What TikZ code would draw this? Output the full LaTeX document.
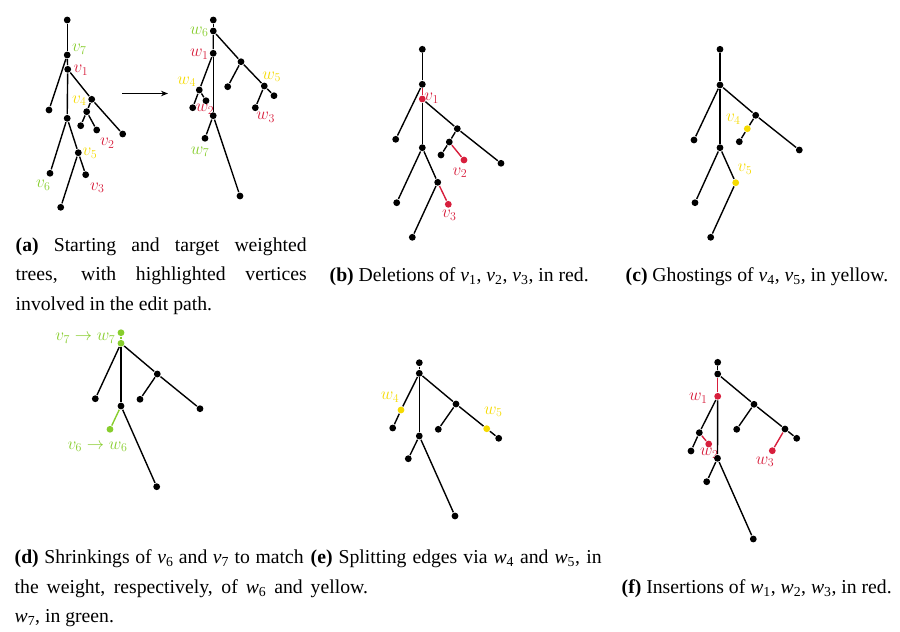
\documentclass[tikz,border=0pt]{standalone}
\usepackage{fontspec}
\newfontfamily\capfont{Liberation Serif}
\usetikzlibrary{arrows.meta}
\definecolor{tgreen}{RGB}{135,205,45}
\definecolor{tred}{RGB}{215,30,60}
\definecolor{tyellow}{RGB}{245,218,0}
\newcommand\capv[1]{\textit{v}\textsubscript{#1}}
\newcommand\capw[1]{\textit{w}\textsubscript{#1}}
\tikzset{
  dot/.style={circle, fill=black, inner sep=0pt, minimum size=6.8pt},
  rdot/.style={dot, fill=tred},
  ydot/.style={dot, fill=tyellow},
  gdot/.style={dot, fill=tgreen},
  lbl/.style={inner sep=0pt, font=\fontsize{16.5}{18}\selectfont},
  captext/.style={anchor=base west, inner sep=0pt, font=\capfont\fontsize{19.7}{29.5}\selectfont},
  link/.style={line width=1.4pt}
}
\begin{document}
\begin{tikzpicture}[x=1pt, y=-1pt, line width=1.4pt]
\useasboundingbox (0,0) rectangle (900,632);

% ---------------- (a) starting tree ----------------
\node[lbl, text=tgreen] (lA7) at (79.3,49.3) {$v_7$};
\node[lbl, text=tred] (lA1) at (81,70) {$v_1$};
\node[lbl, text=tyellow] (lA4) at (79.3,100.7) {$v_4$};
\node[lbl, text=tred] (lA2) at (107.3,143.3) {$v_2$};
\node[lbl, text=tyellow] (lA5) at (90,153.3) {$v_5$};
\node[lbl, text=tgreen] (lA6) at (43.3,185) {$v_6$};
\node[lbl, text=tred] (lA3) at (97.3,187.7) {$v_3$};
\node[dot] (A0) at (67.2,20) {};
\node[dot] (A7) at (67.2,55) {};
\node[dot] (A1) at (67.7,69.3) {};
\node[dot] (Al) at (49,110) {};
\node[dot] (Ar) at (91.7,99.3) {};
\node[dot] (A4) at (86.7,111.7) {};
\node[dot] (A4a) at (80.7,125.7) {};
\node[dot] (A2) at (96.7,130) {};
\node[dot] (Arl) at (122.7,134) {};
\node[dot] (Am) at (67.2,118.3) {};
\node[dot] (A6) at (50,173.3) {};
\node[dot] (A5) at (78.3,152.7) {};
\node[dot] (A3) at (85.7,174.7) {};
\node[dot] (Ab) at (60.7,207.3) {};
\foreach \a/\b in {A0/A7, A7/A1, A7/Al, A1/Am, A1/Ar, Ar/A4, Ar/Arl, A4/A4a, A4/A2, Am/A6, Am/A5, A5/A3, A5/Ab}
  \draw[link] (\a) -- (\b);

% arrow
\coordinate (arrS) at (122,93.5);
\coordinate (arrE) at (168,93.5);
\draw[line width=1.1pt, -{Stealth[length=7pt,width=5.5pt]}] (arrS) -- (arrE);

% ---------------- (a) target tree ----------------
\node[lbl, text=tgreen] (lB6) at (199.3,31.7) {$w_6$};
\node[lbl, text=tred] (lB1) at (199.3,54.3) {$w_1$};
\node[lbl, text=tyellow] (lB4) at (186.7,81.7) {$w_4$};
\node[lbl, text=tyellow] (lB5) at (271.7,76.7) {$w_5$};
\node[lbl, text=tred] (lB3) at (265.7,117.3) {$w_3$};
\node[lbl, text=tred] (lB2) at (205,109) {$w_2$};
\node[lbl, text=tgreen] (lB7) at (200,151.7) {$w_7$};
\node[dot] (B0) at (213.3,20) {};
\node[dot] (B6) at (213.3,31) {};
\node[dot] (B1) at (213.2,53.3) {};
\node[dot] (Br) at (241,61.7) {};
\node[dot] (Brl) at (227.7,86.7) {};
\node[dot] (B5) at (264.3,86) {};
\node[dot] (B5a) at (274,95.7) {};
\node[dot] (B3) at (255.3,107.7) {};
\node[dot] (B4) at (199.3,90) {};
\node[dot] (B4a) at (192.7,107.7) {};
\node[dot] (B2) at (206,100.7) {};
\node[dot] (Bm) at (213.2,115.7) {};
\node[dot] (B7) at (205,138.3) {};
\node[dot] (Bb) at (240,196) {};
\foreach \a/\b in {B0/B6, B6/B1, B1/Bm, B1/B4, B4/B4a, B4/B2, B6/Br, Br/Brl, Br/B5, B5/B5a, B5/B3, Bm/B7, Bm/Bb}
  \draw[link] (\a) -- (\b);

% ---------------- (b) deletions ----------------
\node[lbl, text=tred] (lC1) at (431.7,98.3) {$v_1$};
\node[lbl, text=tred] (lC2) at (460,172.7) {$v_2$};
\node[lbl, text=tred] (lC3) at (449.3,215) {$v_3$};
\node[dot] (C0) at (422.3,49.3) {};
\node[dot] (C7) at (422.3,84.3) {};
\node[rdot] (C1) at (422.3,99) {};
\node[dot] (Cl) at (395.7,139.3) {};
\node[dot] (Cr) at (457.3,128.7) {};
\node[dot] (C4) at (449.3,142) {};
\node[dot] (C4a) at (441,155) {};
\node[rdot] (C2) at (464,160) {};
\node[dot] (Crl) at (501,163.3) {};
\node[dot] (Cm) at (422.3,147.7) {};
\node[dot] (Cml) at (396.7,202.7) {};
\node[dot] (C5) at (437.7,182.3) {};
\node[rdot] (C3) at (448.3,204.3) {};
\node[dot] (Cb) at (412.3,237.3) {};
\foreach \a/\b in {C0/C7, C7/Cl, C1/Cm, C1/Cr, Cr/C4, Cr/Crl, C4/C4a, Cm/Cml, Cm/C5, C5/Cb}
  \draw[link] (\a) -- (\b);
\foreach \a/\b in {C7/C1, C4/C2, C5/C3}
  \draw[link, tred] (\a) -- (\b);

% ---------------- (c) ghostings ----------------
\node[lbl, text=tyellow] (lD4) at (733.3,119.3) {$v_4$};
\node[lbl, text=tyellow] (lD5) at (745,169.3) {$v_5$};
\node[dot] (D0) at (720,49.3) {};
\node[dot] (D7) at (720,85) {};
\node[dot] (Dl) at (694,140) {};
\node[dot] (Dr) at (755.7,115.3) {};
\node[ydot] (D4) at (747.3,128.7) {};
\node[dot] (D4a) at (739.3,141.7) {};
\node[dot] (Drl) at (799.3,150) {};
\node[dot] (Dm) at (720,147.7) {};
\node[dot] (Dml) at (695,202.7) {};
\node[ydot] (D5) at (735.7,182.7) {};
\node[dot] (Db) at (710.7,237.3) {};
\foreach \a/\b in {D0/D7, D7/Dl, D7/Dm, D7/Dr, Dr/D4, D4/D4a, Dr/Drl, Dm/Dml, Dm/D5, D5/Db}
  \draw[link] (\a) -- (\b);

% ---------------- (d) shrinkings ----------------
\node[lbl, text=tgreen, anchor=east] (lE7) at (116,338.3) {$v_7 \rightarrow w_7$};
\node[lbl, text=tgreen] (lE6) at (97.5,446.7) {$v_6 \rightarrow w_6$};
\node[gdot] (E0) at (121,332.7) {};
\node[gdot] (E7) at (121,343.3) {};
\node[dot] (El) at (95.3,398.7) {};
\node[dot] (Er) at (157.3,374) {};
\node[dot] (Er1) at (140,399.3) {};
\node[dot] (Erl) at (200,408.7) {};
\node[dot] (Em) at (121,406) {};
\node[gdot] (E6) at (110,429.3) {};
\node[dot] (Eb) at (156.7,486.7) {};
\foreach \a/\b in {E7/El, E7/Em, E7/Er, Er/Er1, Er/Erl, Em/Eb}
  \draw[link] (\a) -- (\b);
\foreach \a/\b in {E0/E7, Em/E6}
  \draw[link, tgreen] (\a) -- (\b);

% ---------------- (e) splitting ----------------
\node[lbl, text=tyellow] (lF4) at (390,397.3) {$w_4$};
\node[lbl, text=tyellow] (lF5) at (493.3,411.7) {$w_5$};
\node[dot] (F0) at (419.3,362.7) {};
\node[dot] (F1) at (419.3,373.3) {};
\node[ydot] (F4) at (401,410) {};
\node[dot] (Fl) at (392.7,428) {};
\node[dot] (Fr) at (456,404) {};
\node[dot] (Fr1) at (438.3,429.3) {};
\node[ydot] (F5) at (486.7,428.7) {};
\node[dot] (Frl) at (498.7,438.3) {};
\node[dot] (Fm) at (419.3,436) {};
\node[dot] (Fm1) at (408.3,458.7) {};
\node[dot] (Fb) at (455,516) {};
\foreach \a/\b in {F0/F1, F1/F4, F4/Fl, F1/Fm, F1/Fr, Fr/Fr1, Fr/F5, F5/Frl, Fm/Fm1, Fm/Fb}
  \draw[link] (\a) -- (\b);

% ---------------- (f) insertions ----------------
\node[lbl, text=tred] (lG1) at (698.3,398.3) {$w_1$};
\node[lbl, text=tred] (lG2) at (709.3,453.3) {$w_2$};
\node[lbl, text=tred] (lG3) at (765,461.7) {$w_3$};
\node[dot] (G0) at (717.7,362.3) {};
\node[dot] (G6) at (717.7,374) {};
\node[rdot] (G1) at (717.7,396.3) {};
\node[dot] (Gr) at (754,404.3) {};
\node[dot] (Gr1) at (736.7,429.3) {};
\node[dot] (G5) at (785,429) {};
\node[dot] (G5a) at (796.7,438.3) {};
\node[rdot] (G3) at (772.3,450.7) {};
\node[dot] (G4) at (699.3,432.7) {};
\node[dot] (G4a) at (691,451) {};
\node[rdot] (G2) at (708.7,444) {};
\node[dot] (Gm) at (717.5,458.3) {};
\node[dot] (G7) at (706.7,481.7) {};
\node[dot] (Gb) at (753.3,539) {};
\foreach \a/\b in {G0/G6, G1/G4, G1/Gm, G6/Gr, Gr/Gr1, Gr/G5, G5/G5a, G4/G4a, Gm/G7, Gm/Gb}
  \draw[link] (\a) -- (\b);
\foreach \a/\b in {G6/G1, G5/G3, G4/G2}
  \draw[link, tred] (\a) -- (\b);

% ---------------- captions ----------------
\node[captext] (ca1) at (15,251) {\hbox to 291pt{\textbf{(a)} Starting and target weighted}};
\node[captext] (ca2) at (15,280.5) {\hbox to 291pt{trees, with highlighted vertices}};
\node[captext] (ca3) at (15,310) {involved in the edit path.};
\node[captext] (cb) at (329,281) {\textbf{(b)} Deletions of \capv1, \capv2, \capv3, in red.};
\node[captext] (cc) at (625,281) {\textbf{(c)} Ghostings of \capv4, \capv5, in yellow.};
\node[captext] (cd1) at (14,563) {\hbox to 289pt{\textbf{(d)} Shrinkings of \capv6 and \capv7 to match}};
\node[captext] (cd2) at (14,593) {\hbox to 288pt{the weight, respectively, of \capw6 and}};
\node[captext] (cd3) at (14,622) {\capw7, in green.};
\node[captext] (ce1) at (310,563) {\hbox to 291pt{\textbf{(e)} Splitting edges via \capw4 and \capw5, in}};
\node[captext] (ce2) at (310,593) {yellow.};
\node[captext] (cf) at (621,593) {\textbf{(f)} Insertions of \capw1, \capw2, \capw3, in red.};
\end{tikzpicture}
\end{document}
